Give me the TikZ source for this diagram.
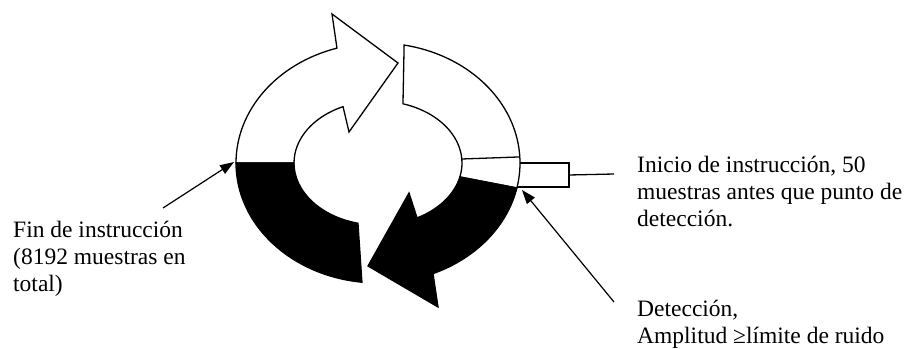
\documentclass[tikz,border=0pt]{standalone}
\usepackage{fontspec}
\setmainfont{Liberation Serif}
\usetikzlibrary{arrows.meta}
\begin{document}
\begin{tikzpicture}[x=1pt,y=1pt,line join=miter,
  ringpart/.style={draw=black,line width=1.3pt},
  whitepart/.style={ringpart,fill=white},
  blackpart/.style={ringpart,fill=black},
  pointer/.style={line width=1.2pt,-{Triangle[length=14pt,width=10pt]}},
  lbl/.style={font=\fontsize{23.5}{27}\selectfont,inner sep=0pt,anchor=base west}]
\useasboundingbox (0,0) rectangle (910,348);
\begin{scope}[shift={(378,185)}]
% upper-left white arrow
\draw[whitepart] (180:84 and 62) -- (180:142 and 120)
  arc[start angle=180,end angle=106.8,x radius=142,y radius=120]
  -- (-46,149) -- (20,100) -- (-29,31) -- (114.6:84 and 62)
  arc[start angle=114.6,end angle=180,x radius=84,y radius=62] -- cycle;
% right white part
\draw[whitepart] (79.4:142 and 120)
  arc[start angle=79.4,end angle=-12,x radius=142,y radius=120]
  -- (-13:84 and 62)
  arc[start angle=-13,end angle=72.7,x radius=84,y radius=62] -- cycle;
\draw[ringpart] (3.7:84 and 62) -- (2.9:142 and 120);
% lower-right black arrow
\draw[blackpart] (-12:142 and 120)
  arc[start angle=-12,end angle=-67.2,x radius=142,y radius=120]
  -- (60,-144) -- (-10,-103) -- (31,-30) -- (-62.3:84 and 62)
  arc[start angle=-62.3,end angle=-13,x radius=84,y radius=62] -- cycle;
% lower-left black part
\draw[blackpart] (180:142 and 120)
  arc[start angle=180,end angle=263.5,x radius=142,y radius=120]
  -- (256.2:84 and 62)
  arc[start angle=256.2,end angle=180,x radius=84,y radius=62] -- cycle;
% small box and stub
\draw[ringpart] (142,0) -- (191,0) -- (191,-24) -- (139,-24);
\coordinate (boxend) at (191,-12);
\coordinate (stubend) at (236,-11);
\draw[ringpart] (boxend) -- (stubend);
% pointers
\coordinate (fintail) at (-215,-45);
\coordinate (fintip) at (-144,1);
\draw[pointer] (fintail) -- (fintip);
\coordinate (dettail) at (236,-139);
\coordinate (dettip) at (144,-27);
\draw[pointer] (dettail) -- (dettip);
% labels
\node[lbl] (inicio) at (259,-10) {\begin{tabular}[t]{@{}l@{}}Inicio de instrucción, 50\\muestras antes que punto de\\detección.\end{tabular}};
\node[lbl] (fin) at (-365,-75) {\begin{tabular}[t]{@{}l@{}}Fin de instrucción\\(8192 muestras en\\total)\end{tabular}};
\node[lbl] (det) at (259,-154) {\begin{tabular}[t]{@{}l@{}}Detección,\\Amplitud ≥límite de ruido\end{tabular}};
\end{scope}
\end{tikzpicture}
\end{document}
